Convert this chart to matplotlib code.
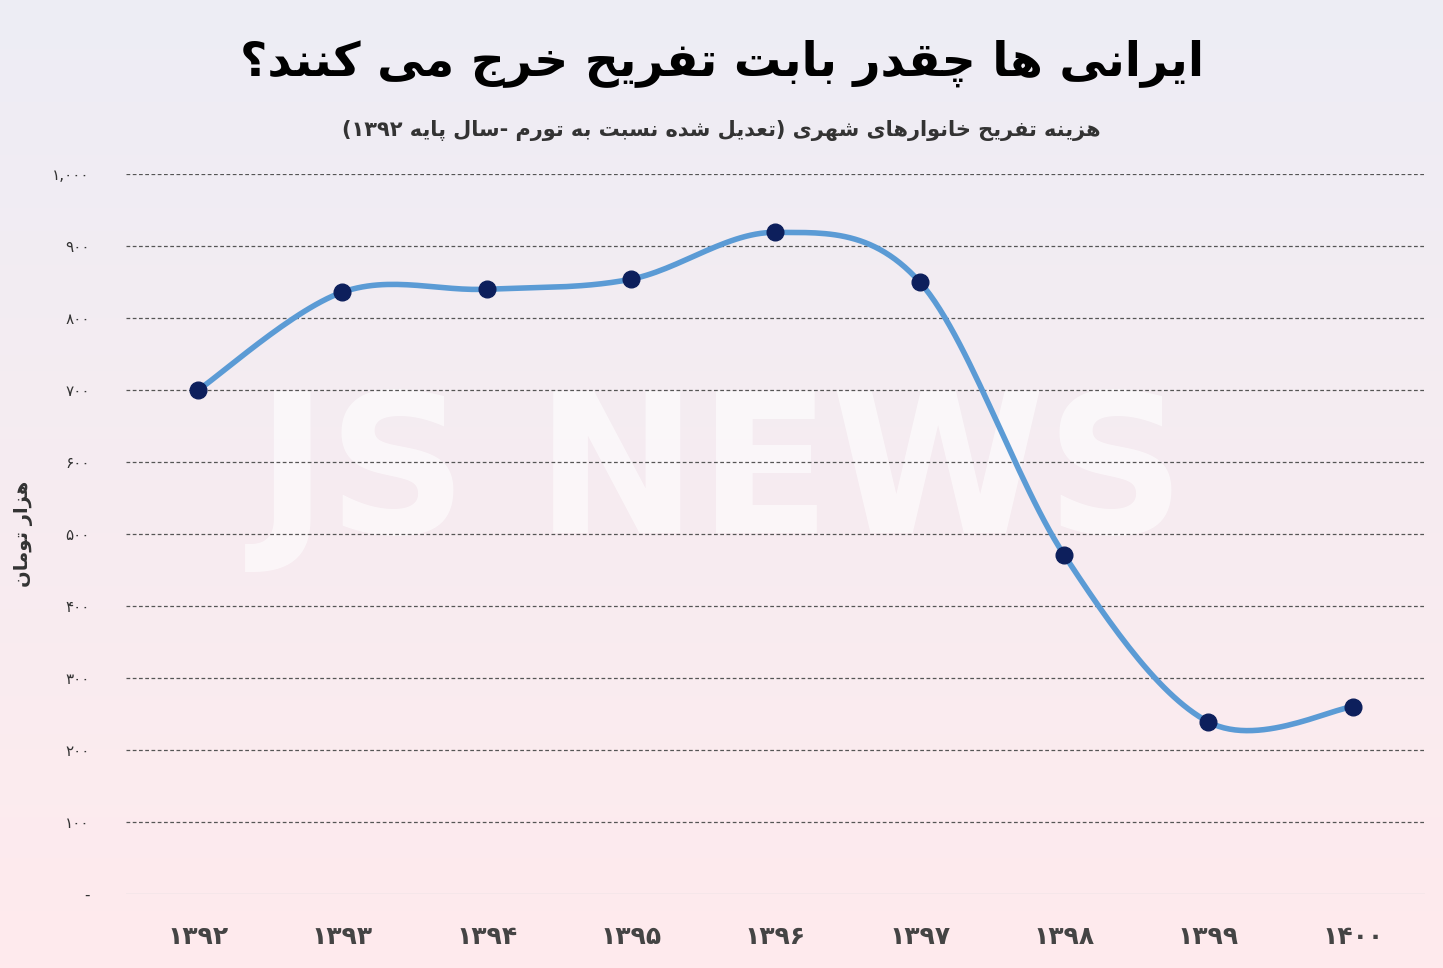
import numpy as np
import matplotlib
matplotlib.use("Agg")
import matplotlib.pyplot as plt

years = ["۱۳۹۲", "۱۳۹۳", "۱۳۹۴", "۱۳۹۵", "۱۳۹۶", "۱۳۹۷", "۱۳۹۸", "۱۳۹۹", "۱۴۰۰"]
values = [700, 836, 840, 854, 919, 850, 471, 239, 260]
yticks = [0, 100, 200, 300, 400, 500, 600, 700, 800, 900, 1000]
ytick_labels = ["-", "۱۰۰", "۲۰۰", "۳۰۰", "۴۰۰", "۵۰۰", "۶۰۰", "۷۰۰", "۸۰۰", "۹۰۰", "۱,۰۰۰"]
title = "ایرانی ها چقدر بابت تفریح خرج می کنند؟"
subtitle = "هزینه تفریح خانوارهای شهری (تعدیل شده نسبت به تورم -سال پایه ۱۳۹۲)"
ylabel = "هزار تومان"

# minimal Arabic/Persian shaping: (isolated, final, initial, medial)
FORMS = {
    "ا": (0xFE8D, 0xFE8E), "د": (0xFEA9, 0xFEAA), "ر": (0xFEAD, 0xFEAE),
    "ز": (0xFEAF, 0xFEB0), "و": (0xFEED, 0xFEEE),
    "ب": (0xFE8F, 0xFE90, 0xFE91, 0xFE92), "ت": (0xFE95, 0xFE96, 0xFE97, 0xFE98),
    "ج": (0xFE9D, 0xFE9E, 0xFE9F, 0xFEA0), "ح": (0xFEA1, 0xFEA2, 0xFEA3, 0xFEA4),
    "خ": (0xFEA5, 0xFEA6, 0xFEA7, 0xFEA8), "س": (0xFEB1, 0xFEB2, 0xFEB3, 0xFEB4),
    "ش": (0xFEB5, 0xFEB6, 0xFEB7, 0xFEB8), "ع": (0xFEC9, 0xFECA, 0xFECB, 0xFECC),
    "ف": (0xFED1, 0xFED2, 0xFED3, 0xFED4), "ق": (0xFED5, 0xFED6, 0xFED7, 0xFED8),
    "ل": (0xFEDD, 0xFEDE, 0xFEDF, 0xFEE0), "م": (0xFEE1, 0xFEE2, 0xFEE3, 0xFEE4),
    "ن": (0xFEE5, 0xFEE6, 0xFEE7, 0xFEE8), "ه": (0xFEE9, 0xFEEA, 0xFEEB, 0xFEEC),
    "پ": (0xFB56, 0xFB57, 0xFB58, 0xFB59), "چ": (0xFB7A, 0xFB7B, 0xFB7C, 0xFB7D),
    "ک": (0xFB8E, 0xFB8F, 0xFB90, 0xFB91), "ی": (0xFBFC, 0xFBFD, 0xFBFE, 0xFBFF),
}


def shape(s):
    out = []
    for i, c in enumerate(s):
        if c not in FORMS:
            out.append(c)
            continue
        prev = s[i - 1] if i > 0 else ""
        nxt = s[i + 1] if i + 1 < len(s) else ""
        jp = prev in FORMS and len(FORMS[prev]) == 4
        jn = nxt in FORMS and len(FORMS[c]) == 4
        f = FORMS[c]
        if jp and jn:
            out.append(chr(f[3]))
        elif jp:
            out.append(chr(f[1]))
        elif jn:
            out.append(chr(f[2]))
        else:
            out.append(chr(f[0]))
    vis = "".join(out)[::-1]
    # keep digit runs left-to-right, mirror brackets
    res, run = [], ""
    for c in vis:
        if "\u06f0" <= c <= "\u06f9" or c == ",":
            run += c
        else:
            if run:
                res.append(run[::-1]); run = ""
            res.append({"(": ")", ")": "("}.get(c, c))
    if run:
        res.append(run[::-1])
    return "".join(res)


plt.rcParams["font.family"] = ["DejaVu Sans"]
fig = plt.figure(figsize=(14.43, 9.68), dpi=100)

# background gradient
bg = fig.add_axes([0, 0, 1, 1], zorder=-10)
grad = np.linspace(0, 1, 256)[:, None]
top = np.array([0.93, 0.93, 0.96]); bot = np.array([1.0, 0.92, 0.93])
img = top[None, None, :] * (1 - grad[..., None]) + bot[None, None, :] * grad[..., None]
bg.imshow(img, aspect="auto", extent=[0, 1, 0, 1])
bg.axis("off")
bg.text(0.5, 0.505, "JS NEWS", ha="center", va="center", fontsize=140, fontweight="bold",
        color="white", alpha=0.6)

ax = fig.add_axes([0.0873, 0.0764, 0.9002, 0.7438])
ax.patch.set_alpha(0)
x = np.arange(len(values))

# Catmull-Rom smoothing for display
pts = np.column_stack([x, values]).astype(float)
ext = np.vstack([pts[0], pts, pts[-1]])
cx, cy = [], []
for i in range(1, len(ext) - 2):
    p0, p1, p2, p3 = ext[i - 1], ext[i], ext[i + 1], ext[i + 2]
    t = np.linspace(0, 1, 30)[:, None]
    c = 0.5 * ((2 * p1) + (-p0 + p2) * t + (2 * p0 - 5 * p1 + 4 * p2 - p3) * t ** 2
               + (-p0 + 3 * p1 - 3 * p2 + p3) * t ** 3)
    cx.extend(c[:, 0]); cy.extend(c[:, 1])
ax.plot(cx, cy, color="#5b9bd5", lw=4, zorder=2)
ax.plot(x, values, "o", color="#0d1f5c", ms=12, zorder=3)

ax.set_xlim(-0.5, 8.5)
ax.set_ylim(0, 1000)
ax.set_yticks(yticks)
ax.set_yticklabels(ytick_labels, fontsize=11, color="#333333")
ax.set_xticks(x)
ax.set_xticklabels(years, fontsize=18, fontweight="bold", color="#444444")
ax.tick_params(length=0)
ax.tick_params(axis="x", pad=22)
ax.tick_params(axis="y", pad=26)
for v in yticks[1:]:
    ax.axhline(v, color="#555555", lw=0.9, ls=(0, (3, 2)), zorder=1)
ax.axhline(0, color="#d9d9d9", lw=1, zorder=1)
for s in ax.spines.values():
    s.set_visible(False)
ax.set_ylabel(shape(ylabel), fontsize=14, fontweight="bold", color="#333333", labelpad=14)

fig.text(0.5, 0.935, shape(title), ha="center", va="center", fontsize=34, fontweight="bold")
fig.text(0.5, 0.865, shape(subtitle), ha="center", va="center", fontsize=15, fontweight="bold",
         color="#333333")

fig.savefig("out.png", dpi=100)
